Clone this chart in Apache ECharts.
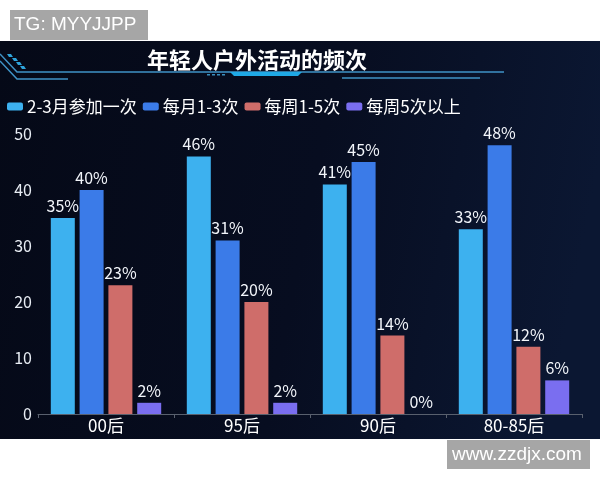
<!DOCTYPE html>
<html>
<head>
<meta charset="utf-8">
<script src="https://cdn.jsdelivr.net/npm/echarts@6/dist/echarts.min.js"></script>
<style>
html,body{margin:0;padding:0;background:#ffffff;}
#chart{width:600px;height:480px;}
</style>
</head>
<body>
<div id="chart"></div>
<script>
const categories = ['00后', '95后', '90后', '80-85后'];
const seriesNames = ['2-3月参加一次', '每月1-3次', '每周1-5次', '每周5次以上'];
const monthly23 = [35, 46, 41, 33];
const monthly13 = [40, 31, 45, 48];
const weekly15 = [23, 20, 14, 12];
const weekly5plus = [2, 2, 0, 6];
const yTicks = [0, 10, 20, 30, 40, 50];
const colors = ['#3db1ef', '#3b7be8', '#cf6d6a', '#7a6ef0'];
const titleText = '年轻人户外活动的频次';
const watermarkTop = 'TG: MYYJJPP';
const watermarkBottom = 'www.zzdjx.com';

const seriesData = [monthly23, monthly13, weekly15, weekly5plus];
const cjk = '"Noto Sans CJK SC", "Noto Sans", sans-serif';

const chart = echarts.init(document.getElementById('chart'), null, {renderer: 'canvas'});

const lineColor = '#3f93c6';
const option = {
  backgroundColor: '#ffffff',
  animation: false,
  textStyle: {fontFamily: cjk},
  title: {
    text: titleText,
    left: 142,
    top: 44,
    textStyle: {color: '#ffffff', fontSize: 22, fontWeight: 'bold', fontFamily: cjk}
  },
  legend: {
    data: seriesNames,
    left: 2,
    top: 93,
    itemWidth: 16,
    itemHeight: 8,
    itemGap: 6,
    icon: 'roundRect',
    textStyle: {color: '#ffffff', fontSize: 17, fontFamily: cjk, padding: [0, 0, 0, -1]}
  },
  grid: {left: 38, right: 18, top: 134, bottom: 66, containLabel: false},
  xAxis: {
    type: 'category',
    data: categories,
    axisLine: {show: true, lineStyle: {color: '#59606e', width: 1}},
    axisTick: {show: true, length: 4, lineStyle: {color: '#59606e'}},
    axisLabel: {color: '#ffffff', fontSize: 17, margin: 3, fontFamily: cjk}
  },
  yAxis: {
    type: 'value',
    min: yTicks[0],
    max: yTicks[yTicks.length - 1],
    interval: yTicks[1] - yTicks[0],
    splitLine: {show: false},
    axisLine: {show: false},
    axisTick: {show: false},
    axisLabel: {color: '#e8edf4', fontSize: 16, margin: 6, fontFamily: cjk}
  },
  graphic: [
    {type: 'rect', z: -10, shape: {x: 0, y: 41, width: 600, height: 398},
      style: {fill: new echarts.graphic.LinearGradient(0, 0, 1, 0.3, [
        {offset: 0, color: '#050917'},
        {offset: 0.55, color: '#070d20'},
        {offset: 1, color: '#0b1732'}
      ])}},
    {type: 'polyline', z: 1, shape: {points: [[0, 54], [17, 72], [504, 72]]},
      style: {stroke: lineColor, lineWidth: 1.5, fill: null}},
    {type: 'polyline', z: 1, shape: {points: [[0, 61], [17, 79], [68, 79]]},
      style: {stroke: lineColor, lineWidth: 1.5, fill: null}},
    {type: 'polyline', z: 1, shape: {points: [[342, 78], [480, 78]]},
      style: {stroke: lineColor, lineWidth: 1.5, fill: null}},
    {type: 'polygon', z: 1, shape: {points: [[230, 72], [302, 72], [298, 76], [234, 76]]},
      style: {fill: '#1fa9e6'}},
    {type: 'polygon', z: 1, shape: {points: [[7, 54], [11, 54], [13, 57], [9, 57]]}, style: {fill: '#2ea4dc'}},
    {type: 'polygon', z: 1, shape: {points: [[12, 58], [16, 58], [18, 61], [14, 61]]}, style: {fill: '#2ea4dc'}},
    {type: 'polygon', z: 1, shape: {points: [[16, 62], [20, 62], [22, 65], [18, 65]]}, style: {fill: '#2ea4dc'}},
    {type: 'polygon', z: 1, shape: {points: [[20, 66], [24, 66], [26, 69], [22, 69]]}, style: {fill: '#2ea4dc'}},
    {type: 'rect', z: 1, shape: {x: 207, y: 74, width: 3, height: 1.5}, style: {fill: '#3a8fbf'}},
    {type: 'rect', z: 1, shape: {x: 212, y: 74, width: 3, height: 1.5}, style: {fill: '#3a8fbf'}},
    {type: 'rect', z: 1, shape: {x: 217, y: 74, width: 3, height: 1.5}, style: {fill: '#3a8fbf'}},
    {type: 'rect', z: 1, shape: {x: 222, y: 74, width: 3, height: 1.5}, style: {fill: '#3a8fbf'}},
    {type: 'rect', z: 5, shape: {x: 10, y: 10, width: 138, height: 30}, style: {fill: '#a6a6a6'}},
    {type: 'text', z: 6, style: {x: 14, y: 25, text: watermarkTop, fill: '#ffffff', fontSize: 19,
      fontFamily: '"Liberation Sans", Arial, sans-serif', verticalAlign: 'middle', align: 'left'}},
    {type: 'rect', z: 5, shape: {x: 447, y: 440, width: 143, height: 29}, style: {fill: '#a6a6a6'}},
    {type: 'text', z: 6, style: {x: 452, y: 455, text: watermarkBottom, fill: '#ffffff', fontSize: 19,
      fontFamily: '"Liberation Sans", Arial, sans-serif', verticalAlign: 'middle', align: 'left'}}
  ],
  series: seriesNames.map((name, i) => ({
    name: name,
    type: 'bar',
    data: seriesData[i],
    barWidth: 24,
    barGap: '20%',
    itemStyle: {color: colors[i]},
    label: {
      show: true,
      position: 'top',
      distance: 4,
      formatter: '{c}%',
      color: '#f2f5fa',
      fontSize: 16,
      fontFamily: cjk
    }
  }))
};
chart.setOption(option);
</script>
</body>
</html>
